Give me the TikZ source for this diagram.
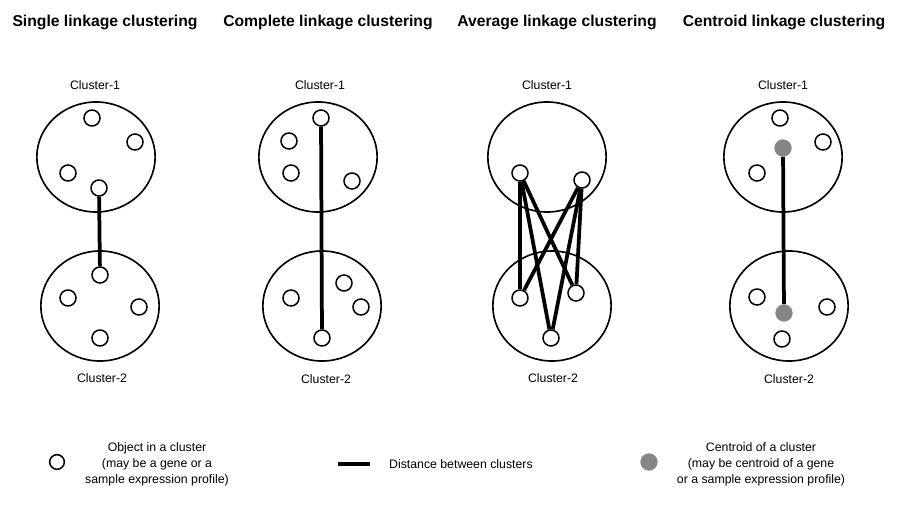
\documentclass[tikz,border=0pt]{standalone}
\usepackage{fontspec}
\setmainfont{Liberation Sans}
\usetikzlibrary{shapes.geometric}
\definecolor{centgray}{HTML}{858585}
\tikzset{
cluster/.style={ellipse,draw,line width=1.4pt,minimum width=3.55cm,minimum height=3.3cm,inner sep=0pt},
obj/.style={circle,draw,fill=white,line width=1.3pt,minimum size=0.48cm,inner sep=0pt},
cent/.style={circle,fill=centgray,minimum size=0.52cm,inner sep=0pt},
link/.style={line width=3.2pt},
title/.style={font=\fontsize{13.4}{16}\selectfont\bfseries},
clabel/.style={font=\fontsize{10.5}{12}\selectfont},
legend/.style={font=\fontsize{10.5}{13.7}\selectfont,align=center},
}

\begin{document}
\begin{tikzpicture}[x=0.03cm,y=-0.03cm]
    \useasboundingbox (0,0) rectangle (900,508);

    % titles
    \node[title] (t1) at (105,22) {Single linkage clustering};
    \node[title] (t2) at (328,22) {Complete linkage clustering};
    \node[title] (t3) at (557,22) {Average linkage clustering};
    \node[title] (t4) at (784,22) {Centroid linkage clustering};

    % single linkage
    \node[cluster] (s1) at (96,157) {};
    \node[cluster] (s2) at (100,306) {};
    \node[clabel] (s1l) at (95,85) {Cluster-1};
    \node[clabel] (s2l) at (102,378) {Cluster-2};
    \foreach \n/\x/\y in {a1/92/118, a2/135/142, a3/68/173, a4/99/188,
                          b1/100/275, b2/68/298, b3/139/307, b4/100/338}
        \node[obj] (s\n) at (\x,\y) {};
    \draw[link] (sa4) -- (sb1);

    % complete linkage
    \node[cluster] (c1) at (318,157) {};
    \node[cluster] (c2) at (322,306) {};
    \node[clabel] (c1l) at (320,85) {Cluster-1};
    \node[clabel] (c2l) at (326,379) {Cluster-2};
    \foreach \n/\x/\y in {a1/321/118, a2/289/141, a3/291/173, a4/352/181,
                          b1/344/283, b2/361/307, b3/291/298, b4/322/338}
        \node[obj] (c\n) at (\x,\y) {};
    \draw[link] (ca1) -- (cb4);

    % average linkage
    \node[cluster] (a1) at (547,157) {};
    \node[cluster] (a2) at (552,306) {};
    \node[clabel] (a1l) at (547,85) {Cluster-1};
    \node[clabel] (a2l) at (553,378) {Cluster-2};
    \foreach \n/\x/\y in {a1/520/173, a2/582/180,
                          b1/520/298, b2/576/293, b3/551/338}
        \node[obj] (a\n) at (\x,\y) {};
    \foreach \i in {aa1, aa2}
    {
        \foreach \j in {ab1, ab2, ab3}
            \draw[link] (\i) -- (\j);
    }

    % centroid linkage
    \node[cluster] (e1) at (783,157) {};
    \node[cluster] (e2) at (789,306) {};
    \node[clabel] (e1l) at (783,85) {Cluster-1};
    \node[clabel] (e2l) at (789,379) {Cluster-2};
    \foreach \n/\x/\y in {a1/780/118, a2/823/142, a3/757/173,
                          b1/757/297, b2/827/307, b3/782/339}
        \node[obj] (e\n) at (\x,\y) {};
    \node[cent] (ec1) at (783,148) {};
    \node[cent] (ec2) at (784,313) {};
    \draw[link] (ec1) -- (ec2);

    % legend
    \node[obj,minimum size=0.44cm] (lo) at (57,462) {};
    \node[legend] (lot) at (157,464) {Object in a cluster\\(may be a gene or a\\sample expression profile)};
    \coordinate (ld1) at (338,464);
    \coordinate (ld2) at (370,464);
    \draw[link] (ld1) -- (ld2);
    \node[legend,anchor=west] (ldt) at (385,464) {Distance between clusters};
    \node[cent] (lc) at (649,462) {};
    \node[legend] (lct) at (761,464) {Centroid of a cluster\\(may be centroid of a gene\\or a sample expression profile)};

\end{tikzpicture}
\end{document}
